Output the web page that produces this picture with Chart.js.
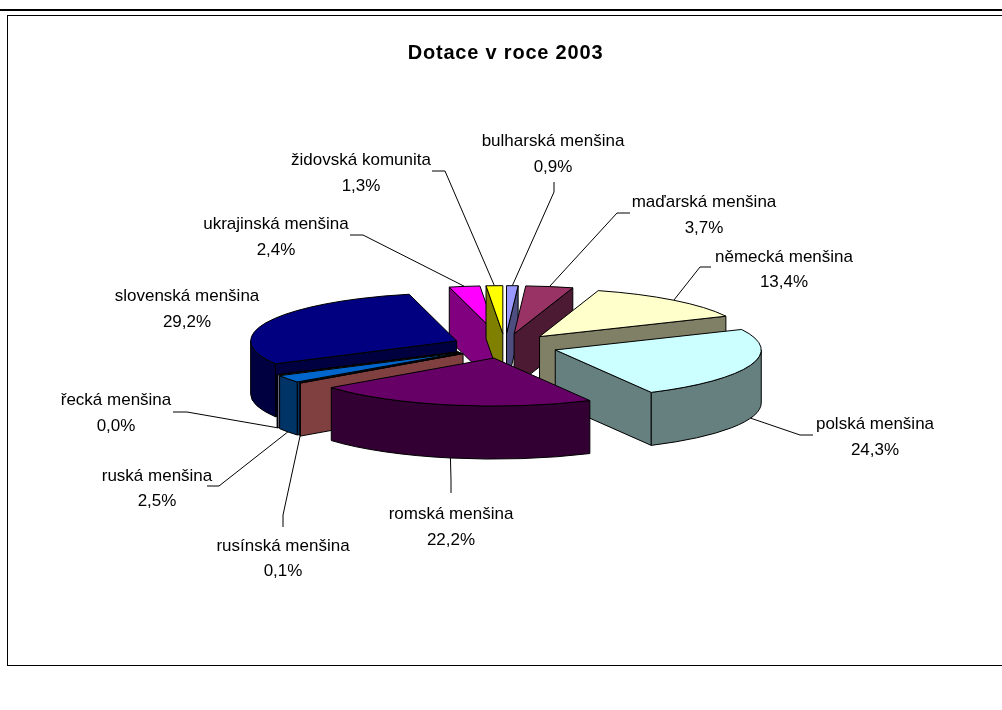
<!DOCTYPE html>
<html>
<head>
<meta charset="utf-8">
<title>Dotace v roce 2003</title>
<script src="https://cdn.jsdelivr.net/npm/chart.js@4/dist/chart.umd.js"></script>
<style>
  html, body { margin: 0; padding: 0; background: #fff; overflow: hidden; }
  #wrap { position: relative; width: 1002px; height: 710px; }
</style>
</head>
<body>
<div id="wrap"><canvas id="pie" width="1002" height="710"></canvas></div>
<script>
const categories = ["bulharská menšina", "maďarská menšina", "německá menšina", "polská menšina",
  "romská menšina", "rusínská menšina", "ruská menšina", "řecká menšina", "slovenská menšina",
  "ukrajinská menšina", "židovská komunita"];
const shares = [0.9, 3.7, 13.4, 24.3, 22.2, 0.1, 2.5, 0.04, 29.2, 2.4, 1.3];
const topColors = ["#9999FF", "#993366", "#FFFFCC", "#CCFFFF", "#660066", "#FF8080", "#0066CC",
  "#CCCCFF", "#000080", "#FF00FF", "#FFFF00"];
const sideColors = ["#4D4D80", "#4D1A33", "#808066", "#668080", "#330033", "#804040", "#003366",
  "#666680", "#000040", "#800080", "#808000"];

// layout of the fake 3D view
const CENTER = { x: 505, y: 346 };
const SQUASH = 0.233;
const DEPTH = 53;
const EXPLODE = 53;
const RADIUS = 206;
// painter's order, back to front
const drawOrder = [9, 10, 0, 1, 2, 8, 7, 6, 5, 3, 4];
// label centre x, first and second line y, then where the leader starts
const labelSpots = [
  { x: 553, y1: 141, y2: 167, line: [[554, 182], [554, 192]] },
  { x: 704, y1: 202, y2: 228, line: [[630, 213], [617, 213]] },
  { x: 784, y1: 257, y2: 282, line: [[711, 267], [700, 267]] },
  { x: 875, y1: 424, y2: 450, line: [[813, 435], [800, 435]] },
  { x: 451, y1: 514, y2: 540, line: [[451, 493], [451, 480]] },
  { x: 283, y1: 546, y2: 571, line: [[283, 527], [283, 515]] },
  { x: 157, y1: 476, y2: 501, line: [[207, 486], [219, 486]] },
  { x: 116, y1: 400, y2: 426, line: [[173, 412], [187, 412]] },
  { x: 187, y1: 296, y2: 322, line: null },
  { x: 276, y1: 224, y2: 250, line: [[350, 235], [363, 235]] },
  { x: 361, y1: 160, y2: 186, line: [[432, 171], [445, 171]] },
];

function slicePos(arc) {
  const mid = (arc.startAngle + arc.endAngle) / 2;
  return { x: CENTER.x + Math.cos(mid) * EXPLODE, y: CENTER.y + Math.sin(mid) * EXPLODE * SQUASH };
}

function rimPoint(o, angle, r) {
  return [o.x + Math.cos(angle) * r, o.y + Math.sin(angle) * r * SQUASH];
}

function radialWall(ctx, o, angle, r, color) {
  const [rx, ry] = rimPoint(o, angle, r);
  ctx.beginPath();
  ctx.moveTo(o.x, o.y);
  ctx.lineTo(rx, ry);
  ctx.lineTo(rx, ry + DEPTH);
  ctx.lineTo(o.x, o.y + DEPTH);
  ctx.closePath();
  ctx.fillStyle = color;
  ctx.fill();
  ctx.stroke();
}

function rimWall(ctx, o, from, to, r, color) {
  ctx.beginPath();
  ctx.ellipse(o.x, o.y, r, r * SQUASH, 0, from, to);
  ctx.ellipse(o.x, o.y + DEPTH, r, r * SQUASH, 0, to, from, true);
  ctx.closePath();
  ctx.fillStyle = color;
  ctx.fill();
  ctx.stroke();
}

const pie3d = {
  id: "pie3d",
  beforeDraw(chart) {
    const ctx = chart.ctx;
    ctx.save();
    ctx.fillStyle = "#000";
    ctx.fillRect(0, 9, 1002, 2);
    ctx.lineWidth = 1;
    ctx.strokeStyle = "#000";
    ctx.strokeRect(7.5, 15.5, 1100, 650);
    ctx.restore();
    ctx.letterSpacing = "0.8px"; // only the title is spaced out like this
  },
  beforeDatasetDraw(chart) {
    const ctx = chart.ctx;
    const arcs = chart.getDatasetMeta(0).data;
    ctx.letterSpacing = "0px";
    ctx.save();
    ctx.strokeStyle = "#000";
    ctx.lineWidth = 1;
    ctx.lineJoin = "round";
    drawOrder.forEach(i => {
      const arc = arcs[i];
      const o = slicePos(arc);
      const r = arc.outerRadius;
      const s = arc.startAngle, e = arc.endAngle;
      // only the faces turned towards the viewer
      if (Math.cos(s) < 0) radialWall(ctx, o, s, r, sideColors[i]);
      if (Math.cos(e) > 0) radialWall(ctx, o, e, r, sideColors[i]);
      const from = Math.max(s, 0), to = Math.min(e, Math.PI);
      if (to > from) rimWall(ctx, o, from, to, r, sideColors[i]);

      // top face goes through the library's arc, squashed into an ellipse
      ctx.save();
      ctx.translate(o.x, o.y);
      ctx.scale(1, SQUASH);
      ctx.translate(-arc.x, -arc.y);
      arc.draw(ctx);
      ctx.restore();

      ctx.beginPath();
      ctx.moveTo(o.x, o.y);
      ctx.ellipse(o.x, o.y, r, r * SQUASH, 0, s, e);
      ctx.closePath();
      ctx.stroke();
    });
    ctx.restore();
    return false;
  },
  afterDraw(chart) {
    const ctx = chart.ctx;
    const arcs = chart.getDatasetMeta(0).data;
    ctx.save();
    ctx.strokeStyle = "#000";
    ctx.lineWidth = 1;
    ctx.fillStyle = "#000";
    ctx.font = "17px 'Liberation Sans'";
    ctx.textAlign = "center";
    ctx.textBaseline = "middle";
    categories.forEach((name, i) => {
      const spot = labelSpots[i];
      ctx.fillText(name, spot.x, spot.y1);
      ctx.fillText(shares[i].toFixed(1).replace(".", ",") + "%", spot.x, spot.y2);
      if (!spot.line) return;
      const arc = arcs[i];
      const mid = (arc.startAngle + arc.endAngle) / 2;
      const [ex, ey] = rimPoint(slicePos(arc), mid, arc.outerRadius);
      ctx.beginPath();
      spot.line.forEach(([x, y], k) => k ? ctx.lineTo(x, y) : ctx.moveTo(x, y));
      ctx.lineTo(ex, Math.sin(mid) > 0 ? ey + DEPTH : ey);
      ctx.stroke();
    });
    ctx.restore();
  },
};

new Chart(document.getElementById("pie"), {
  type: "pie",
  data: {
    labels: categories,
    datasets: [{
      data: shares,
      backgroundColor: topColors,
      borderWidth: 0,
      radius: RADIUS,
    }],
  },
  options: {
    responsive: false,
    animation: false,
    radius: RADIUS,
    layout: { padding: { left: 9, right: 0, top: 0, bottom: 79 } },
    plugins: {
      legend: { display: false },
      tooltip: { enabled: false },
      title: {
        display: true,
        text: "Dotace v roce 2003",
        color: "#000",
        font: { family: "'Liberation Sans'", size: 20, weight: "bold" },
        padding: { top: 41, bottom: 0 },
      },
    },
  },
  plugins: [pie3d],
});
</script>
</body>
</html>
